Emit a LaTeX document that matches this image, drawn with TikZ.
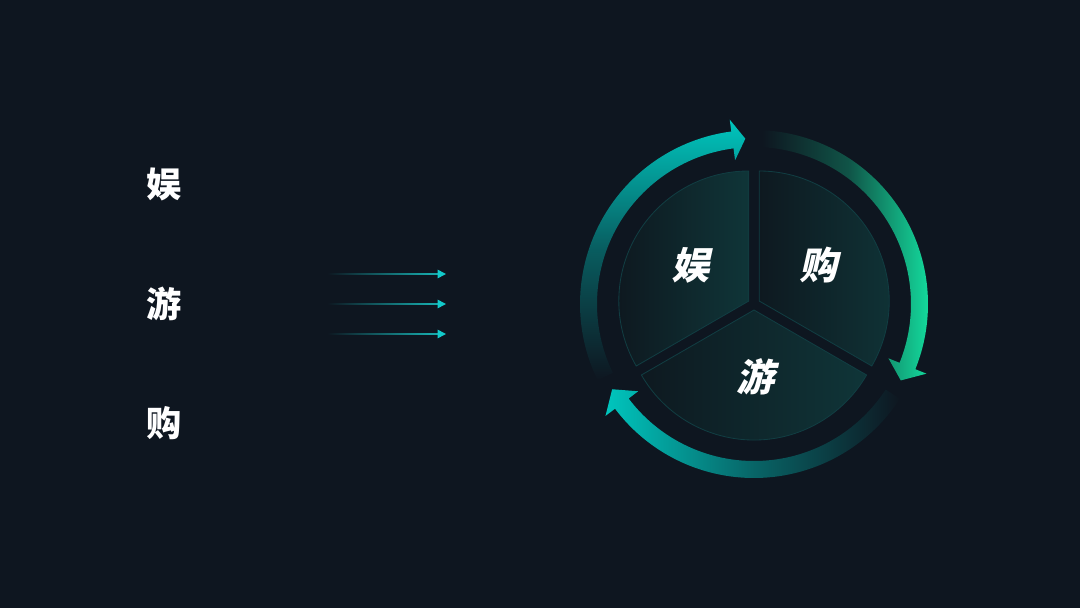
\documentclass[tikz,border=0pt]{standalone}
\usepackage{fontspec}
\usetikzlibrary{arrows.meta,fadings}
\newfontfamily\cjk{Noto Sans CJK SC}
\newfontfamily\cjkit{Noto Sans CJK SC}[FakeSlant=0.22]

\definecolor{bg}{HTML}{0E1620}
\definecolor{ringcyan}{HTML}{00C6BE}
\definecolor{ringgreen}{HTML}{14E3A2}
\definecolor{secdark}{HTML}{0E1920}
\definecolor{seclight}{HTML}{0F3538}
\definecolor{secedge}{HTML}{113D42}
\definecolor{linecyan}{HTML}{17A6A8}
\definecolor{tipcyan}{HTML}{12CACA}

% ring arrow: start angle, back of head, tip
\newcommand{\ringarrow}[3]{%
  (#1:174) arc[start angle=#1, end angle=#2, radius=174]
  -- (#2:186) -- (#3:165.5) -- (#2:145) -- (#2:157)
  arc[start angle=#2, end angle=#1, radius=157] -- cycle}
% sector from apex: from angle, to angle
\newcommand{\sectorpath}[2]{%
  (0,0) -- (#1:130) arc[start angle=#1, end angle=#2, radius=130] -- cycle}

\tikzset{flow/.style={linecyan,line width=1.1pt,path fading=west,
  fit fading=false,fading transform={shift={(378,#1)},xscale=1.45},
  -{Triangle[length=6pt,width=6pt,color=tipcyan]}}}

\begin{document}
\begin{tikzpicture}[x=0.025cm,y=0.025cm]

\tikzstyle{word}=[text=white,font=\cjk\bfseries\fontsize{25}{25}\selectfont]
\tikzstyle{slword}=[text=white,font=\cjkit\bfseries\fontsize{27}{27}\selectfont]
\tikzstyle{sector}=[draw=secedge,line width=0.6pt,left color=secdark,right color=seclight]

\fill[bg] (0,0) rectangle (1080,608);
\useasboundingbox (0,0) rectangle (1080,608);

\node[word] (yu)  at (164,424) {娱} ;
\node[word] (you) at (164,304) {游} ;
\node[word] (gou) at (164,185) {购} ;

\coordinate (a1) at (310,334) ; \coordinate (b1) at (446,334) ;
\coordinate (a2) at (310,304) ; \coordinate (b2) at (446,304) ;
\coordinate (a3) at (310,274) ; \coordinate (b3) at (446,274) ;

\draw[flow=334] (a1) -- (b1);
\draw[flow=304] (a2) -- (b2);
\draw[flow=274] (a3) -- (b3);

\coordinate (C) at (754,304) ;

\begin{scope}[shift={(C)}]
  % sectors
  \shadedraw[sector,shift={(150:6)}] \sectorpath{90}{210};
  \shadedraw[sector,shift={(30:6)}]  \sectorpath{-30}{90};
  \shadedraw[sector,shift={(270:6)}] \sectorpath{210}{330};
  % ring
  \shade[top color=ringcyan,bottom color=bg,middle color=ringcyan!40!bg]
    \ringarrow{206}{97.5}{93};
  \shade[left color=bg,right color=ringgreen,middle color=ringgreen!30!bg]
    \ringarrow{87}{-22}{-27.5};
  \shade[left color=ringcyan,right color=bg,middle color=ringcyan!45!bg]
    \ringarrow{-33}{-143}{-149};
\end{scope}

\node[slword] (s1) at (690,343) {娱} ;
\node[slword] (s2) at (818,343) {购} ;
\node[slword] (s3) at (755,231) {游} ;

\end{tikzpicture}
\end{document}
